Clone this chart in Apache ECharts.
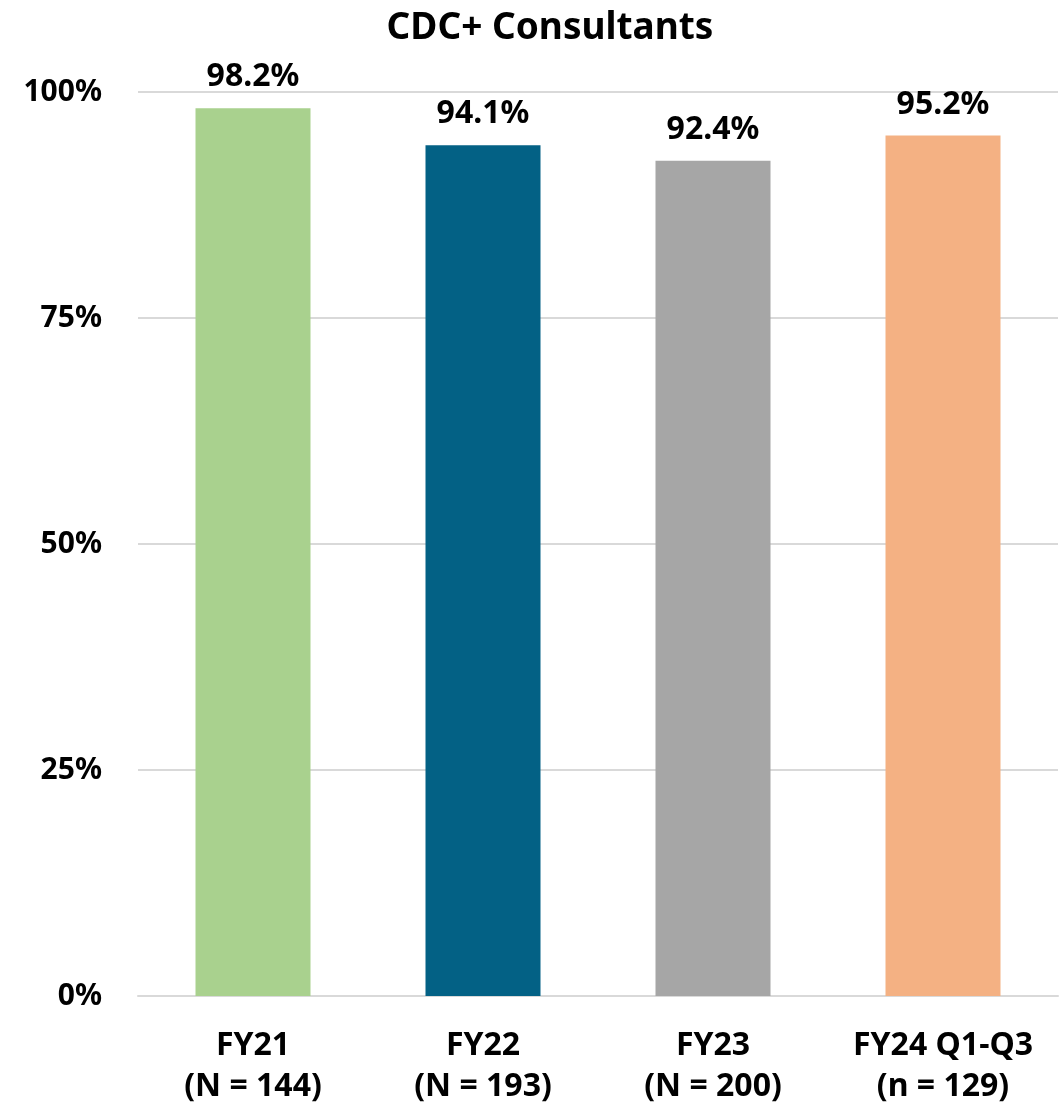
<!DOCTYPE html>
<html>
<head>
<meta charset="utf-8">
<script src="https://cdn.jsdelivr.net/npm/echarts@6/dist/echarts.min.js"></script>
<style>
  html, body { margin: 0; padding: 0; background: #ffffff; }
  #chart { width: 1061px; height: 1112px; }
</style>
</head>
<body>
<div id="chart"></div>
<script>
// Share of CDC+ consultants by fiscal year
const categories = ['FY21\n(N = 144)', 'FY22\n(N = 193)', 'FY23\n(N = 200)', 'FY24 Q1-Q3\n(n = 129)'];
const values = [98.2, 94.1, 92.4, 95.2];
const barColors = ['#A9D18E', '#036185', '#A6A6A6', '#F4B183'];
const yTicks = [0, 25, 50, 75, 100];

const FONT = '"Noto Sans", "Open Sans", sans-serif';

const chart = echarts.init(document.getElementById('chart'));
chart.setOption({
  animation: false,
  title: {
    text: 'CDC+ Consultants',
    left: 545,
    top: 5,
    textAlign: 'center',
    textStyle: { fontFamily: FONT, fontWeight: 'bold', fontSize: 37, color: '#000000' }
  },
  grid: { left: 138, right: 3, top: 92, bottom: 116, containLabel: false },
  xAxis: {
    type: 'category',
    data: categories,
    axisTick: { show: false },
    axisLine: { lineStyle: { color: '#D9D9D9', width: 2 } },
    axisLabel: {
      interval: 0,
      hideOverlap: false,
      margin: 29,
      fontFamily: FONT, fontWeight: 'bold', fontSize: 32, color: '#000000',
      lineHeight: 41
    }
  },
  yAxis: {
    type: 'value',
    min: yTicks[0],
    max: yTicks[yTicks.length - 1],
    interval: 25,
    axisLine: { show: false },
    axisTick: { show: false },
    splitLine: { lineStyle: { color: '#D9D9D9', width: 2 } },
    axisLabel: {
      margin: 36,
      fontFamily: FONT, fontWeight: 'bold', fontSize: 30, color: '#000000',
      formatter: v => v + '%'
    }
  },
  series: [{
    type: 'bar',
    barWidth: '50%',
    data: values.map((v, i) => ({ value: v, itemStyle: { color: barColors[i] } })),
    label: {
      show: true,
      position: 'top',
      distance: 15,
      fontFamily: FONT, fontWeight: 'bold', fontSize: 32, color: '#000000',
      formatter: p => p.value.toFixed(1) + '%'
    }
  }]
});
</script>
</body>
</html>
